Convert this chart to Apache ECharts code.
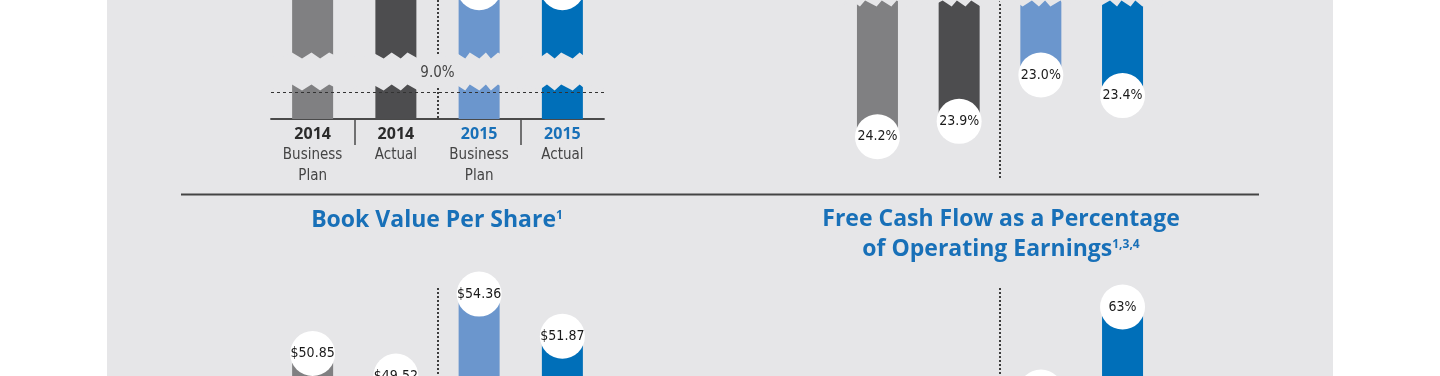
<!DOCTYPE html>
<html>
<head>
<meta charset="utf-8">
<script src="https://cdn.jsdelivr.net/npm/echarts@6/dist/echarts.min.js"></script>
<style>
  html, body { margin: 0; padding: 0; background: #fff; overflow: hidden; }
  #wrap { position: relative; width: 1440px; height: 376px; overflow: hidden; background: #fff; }
  #panel { position: absolute; left: 107px; top: 0; width: 1226px; height: 376px; background: #e6e6e8; }
  #chart { position: absolute; left: 0; top: -200px; width: 1440px; height: 726px; }
</style>
</head>
<body>
<div id="wrap">
  <div id="panel"></div>
  <div id="chart"></div>
</div>
<script>
const categories = ['2014 Business Plan', '2014 Actual', '2015 Business Plan', '2015 Actual'];
const years = ['2014', '2014', '2015', '2015'];
const planLabels = [['Business', 'Plan'], ['Actual'], ['Business', 'Plan'], ['Actual']];

// top left (broken axis, 9.0% reference line)
const returnValues = [12.4, 12.7, 12.0, 12.0];
const thresholdValue = 9.0;
// top right (hanging bars)
const ratioValues = [24.2, 23.9, 23.0, 23.4];
// bottom left
const bookValues = [50.85, 49.52, 54.36, 51.87];
// bottom right
const fcfValues = [45, 48, 52, 63];

const OFF = 200; // chart canvas is shifted up by this much
const palette = ['#808082', '#4d4d4f', '#6b96cd', '#006fb9'];
const blue = '#1870b8';
const narrow = "'Liberation Sans Narrow', 'DejaVu Sans Condensed', 'Roboto', sans-serif";
const heavy = "'Open Sans', 'Noto Sans', sans-serif";

const chart = echarts.init(document.getElementById('chart'));

const dotted = { type: [2, 2], color: '#3d3d3d', width: 2 };
// band edges of the four categories, used for the year divider and the label separators
const bandEdges = ['e0', 'e1', 'e2', 'e3', 'e4'];

function categoryAxis(gridIndex) {
    return {
        type: 'category',
        gridIndex,
        data: categories,
        axisLine: { show: false },
        axisTick: { show: false },
        axisLabel: { show: false },
        splitLine: { show: false },
    };
}

function edgeAxis(gridIndex, withTicks) {
    return {
        type: 'category',
        gridIndex,
        data: bandEdges,
        boundaryGap: false,
        position: 'bottom',
        axisLine: { show: false },
        axisTick: {
            show: withTicks,
            length: 26,
            interval: (index) => index === 1 || index === 3,
            lineStyle: { color: '#4a4a4a', width: 1.5 },
        },
        axisLabel: { show: false },
        splitLine: { show: true, interval: (index) => index === 2, lineStyle: dotted },
    };
}

function plainYAxis(gridIndex, extra) {
    return Object.assign({
        type: 'value',
        gridIndex,
        axisLine: { show: false },
        axisTick: { show: false },
        axisLabel: { show: false },
        splitLine: { show: false },
    }, extra);
}

const hiddenBreak = {
    show: true,
    itemStyle: { color: '#e6e6e8', opacity: 1, borderWidth: 0, borderColor: '#e6e6e8' },
    zigzagAmplitude: 3,
    zigzagMinSpan: 4,
    zigzagMaxSpan: 12,
    expandOnClick: false,
};

function bars(index, values) {
    return {
        type: 'bar',
        xAxisIndex: index,
        yAxisIndex: index,
        data: values,
        barWidth: 41,
        itemStyle: { color: (p) => palette[p.dataIndex] },
        silent: true,
    };
}

function bubbles(index, values, fmt) {
    return {
        type: 'scatter',
        xAxisIndex: index,
        yAxisIndex: index,
        data: values,
        symbolSize: 45,
        itemStyle: { color: '#fff', opacity: 1 },
        label: {
            show: true,
            position: 'inside',
            color: '#1a1a1a',
            fontFamily: narrow,
            fontWeight: 500,
            fontSize: 14,
            formatter: (p) => fmt(p.value),
        },
        silent: true,
        z: 5,
    };
}

const titleRich = {
    t: { fontFamily: heavy, fontWeight: 700, fontSize: 23, color: blue, lineHeight: 30 },
    s: { fontFamily: heavy, fontWeight: 700, fontSize: 12, color: blue, lineHeight: 14, verticalAlign: 'top', padding: [5, 0, 0, 0] },
};

chart.setOption({
    animation: false,
    backgroundColor: 'transparent',
    title: [
        {
            text: '{t|Book Value Per Share}{s|1}',
            left: 437,
            top: 205 + OFF,
            textAlign: 'center',
            padding: 0,
            textStyle: { rich: titleRich },
        },
        {
            text: '{t|Free Cash Flow as a Percentage}\n{t|of Operating Earnings}{s|1,3,4}',
            left: 1001,
            top: 204 + OFF,
            textAlign: 'center',
            padding: 0,
            textStyle: { rich: titleRich },
        },
    ],
    graphic: [
        {
            type: 'line',
            shape: { x1: 181, y1: 194.5 + OFF, x2: 1259, y2: 194.5 + OFF },
            style: { stroke: '#444', lineWidth: 2 },
            silent: true,
        },
    ],
    grid: [
        { left: 271, width: 333, top: OFF - 80, height: 199 },
        { left: 836.6, width: 326.8, top: OFF - 60, height: 240 },
        { left: 271, width: 333, top: OFF + 288, height: 172 },
        { left: 836.6, width: 326.8, top: OFF + 288, height: 172 },
    ],
    xAxis: [
        {
            type: 'category',
            gridIndex: 0,
            data: categories,
            axisLine: { lineStyle: { color: '#4a4a4a', width: 1.8 } },
            axisTick: { show: false },
            axisLabel: {
                interval: 0,
                margin: 4,
                verticalAlign: 'top',
                formatter: (value, index) => {
                    const key = years[index] === '2015' ? 'b' : 'a';
                    const lines = planLabels[index].map((w) => `{s|${w}}`).join('\n');
                    return `{${key}|${years[index]}}\n${lines}`;
                },
                rich: {
                    a: { fontFamily: heavy, fontWeight: 700, fontSize: 16, color: '#2b2b2b', lineHeight: 22 },
                    b: { fontFamily: heavy, fontWeight: 700, fontSize: 16, color: blue, lineHeight: 22 },
                    s: { fontFamily: narrow, fontSize: 15, color: '#444', lineHeight: 21 },
                },
            },
            splitLine: { show: false },
        },
        categoryAxis(1),
        categoryAxis(2),
        categoryAxis(3),
        edgeAxis(0, true),
        edgeAxis(1, false),
        edgeAxis(2, false),
        edgeAxis(3, false),
    ],
    yAxis: [
        plainYAxis(0, {
            min: 8.2,
            max: 13.99,
            breaks: [{ start: 9.12, end: 10.0, gap: '16.08%' }],
            breakArea: hiddenBreak,
        }),
        plainYAxis(1, {
            inverse: true,
            min: 0,
            max: 25.04,
            breaks: [{ start: 0.68, end: 21.6, gap: '11.667%' }],
            breakArea: hiddenBreak,
        }),
        plainYAxis(2, { min: 44.57, max: 54.72 }),
        plainYAxis(3, { min: 43.2, max: 65.46 }),
    ],
    series: [
        Object.assign(bars(0, returnValues), {
            markLine: {
                silent: true,
                symbol: 'none',
                z: 150,
                data: [{ yAxis: thresholdValue }],
                lineStyle: { type: [3, 3], color: '#333', width: 1.2 },
                label: {
                    position: 'insideMiddleTop',
                    distance: 11,
                    color: '#444',
                    fontFamily: narrow,
                    fontSize: 15,
                    formatter: (p) => p.value.toFixed(1) + '%',
                },
            },
        }),
        bubbles(0, returnValues, (v) => v.toFixed(1) + '%'),
        bars(1, ratioValues),
        bubbles(1, ratioValues, (v) => v.toFixed(1) + '%'),
        bars(2, bookValues),
        bubbles(2, bookValues, (v) => '$' + v.toFixed(2)),
        bars(3, fcfValues),
        bubbles(3, fcfValues, (v) => v + '%'),
    ],
});
</script>
</body>
</html>
